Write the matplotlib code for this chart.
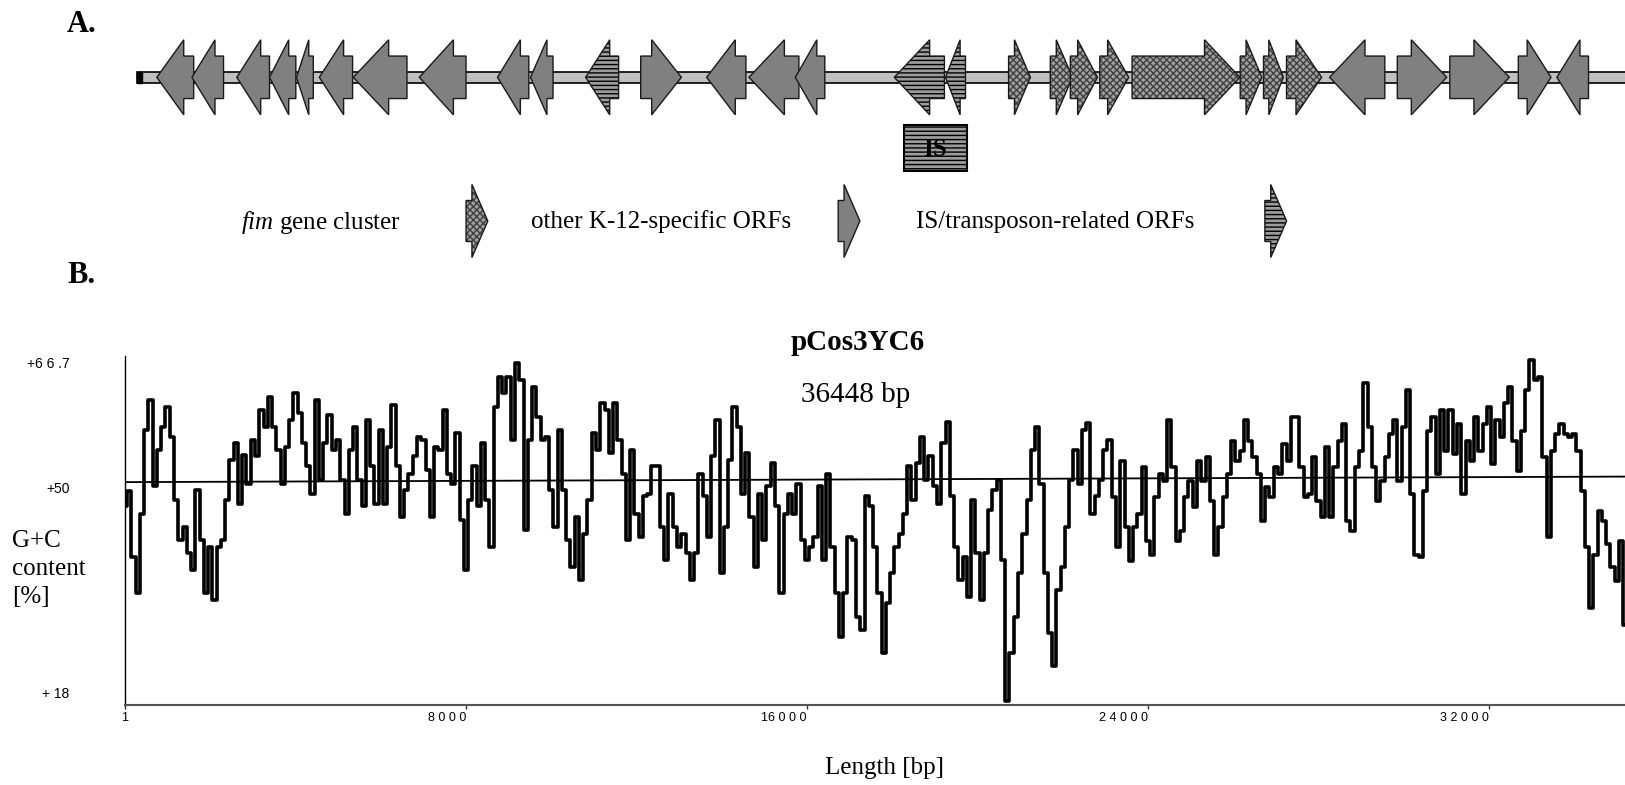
import numpy as np
import matplotlib.pyplot as plt
from matplotlib.patches import Polygon, Rectangle
from matplotlib.transforms import ScaledTranslation

plt.rcParams['font.family'] = ['Liberation Serif', 'DejaVu Serif']
plt.rcParams['mathtext.fontset'] = 'custom'
plt.rcParams['mathtext.rm'] = 'Liberation Serif'
plt.rcParams['mathtext.it'] = 'Liberation Serif:italic'
plt.rcParams['hatch.linewidth'] = 1.0

# ---- A. ORF map of the insert (positions in kb) ----
insert_len_kb = 36.448
gene_start = [0.465, 1.288, 2.341, 3.109, 3.742, 4.277, 5.074, 6.623, 8.457, 9.232,
              10.524, 11.817, 13.363, 14.358, 15.444, 17.766, 18.968, 20.448, 21.426, 21.896,
              22.588, 23.345, 25.882, 26.428, 26.968, 27.979, 29.567, 30.799, 32.406, 33.311]
gene_end = [1.330, 2.030, 3.109, 3.726, 4.136, 5.058, 6.334, 7.719, 9.192, 9.760,
            11.299, 12.772, 14.285, 15.529, 16.136, 18.942, 19.437, 20.959, 21.947, 22.532,
            23.266, 25.874, 26.388, 26.893, 27.791, 29.274, 30.726, 32.195, 33.173, 34.053]
gene_strand = [-1, -1, -1, -1, -1, -1, -1, -1, -1, -1,
               -1, 1, -1, -1, -1, -1, -1, 1, 1, 1,
               1, 1, 1, 1, 1, -1, 1, 1, 1, -1]
gene_type = ['k12'] * 10 + ['is'] + ['k12'] * 4 + ['is'] * 2 + ['fim'] * 8 + ['k12'] * 5
is_element = (17.99, 19.47)

legend_types = ['fim', 'k12', 'is']
legend_labels = [r'$\mathit{fim}$ gene cluster', 'other K-12-specific ORFs',
                 'IS/transposon-related ORFs']

# ---- B. G+C content, one value every 100 bp ----
gc_step = 100
gc_part1 = [45.7, 47.8, 38.7, 33.6, 44.7, 56.4, 60.6, 48.5, 53.6, 56.8,
            59.6, 55.4, 46.6, 41.0, 42.9, 39.2, 36.8, 48.0, 41.0, 33.6,
            40.1, 32.7, 40.1, 41.0, 46.6, 52.2, 54.5, 46.1, 52.9, 48.9,
            55.0, 52.7, 59.2, 56.8, 61.0, 56.8, 53.6, 48.9, 54.0, 57.8,
            61.5, 58.7, 54.5, 51.3, 47.5, 60.6, 49.4, 54.5, 58.5, 53.6,
            55.0, 49.4, 44.7, 53.6, 56.8, 49.4, 45.7, 57.8, 51.3, 46.1,
            56.4, 46.1, 54.0, 59.9, 51.3, 44.3, 48.0, 50.3, 52.7, 55.4,
            55.0, 50.8, 44.3, 54.0, 53.6, 59.2, 50.3, 48.9, 55.9, 43.8,
            36.8, 46.6, 51.3, 45.7, 54.5, 46.6, 40.1, 59.6, 63.8, 61.5,
            63.8, 55.0, 65.7, 63.4, 42.4, 55.0, 62.4, 58.2, 55.0, 55.4,
            48.0, 42.9, 56.4, 48.0, 41.0, 37.3, 44.3, 35.4, 41.9, 46.6,
            55.9, 53.6, 60.1, 59.2, 53.1, 60.1, 55.0]
gc_part2 = [50.3, 41.0, 53.6, 44.7, 41.5, 47.1, 47.5, 51.3, 51.3, 42.9,
            38.2, 47.5, 42.9, 40.1, 41.9, 39.2, 35.4, 39.2, 50.3, 47.1,
            41.5, 52.7, 57.8, 36.4, 42.9, 52.2, 59.6, 56.8, 47.5, 53.1,
            44.3, 37.3, 47.5, 41.0, 48.5, 51.7, 45.7, 33.6, 44.7, 47.5,
            44.7, 48.9, 41.0, 38.2, 40.1, 41.5, 48.5, 38.2, 50.3, 40.1,
            33.6, 27.5, 33.6, 41.5, 41.0, 30.3, 28.5, 47.1, 45.7, 40.1,
            33.6, 25.2, 32.2, 36.4, 40.1, 41.9, 44.7, 51.3, 46.6, 51.7,
            55.4, 49.4, 52.7, 48.5, 46.1, 54.5, 57.5, 47.1, 40.1, 35.4,
            38.7, 33.1, 46.6, 39.2, 32.7, 39.2, 45.2, 48.0, 49.4, 38.2,
            18.6, 25.2, 30.3, 36.4, 41.9, 46.6, 53.6, 56.8, 48.9, 36.4,
            28.0, 23.5, 34.1, 37.3, 42.9, 49.4, 53.6, 48.9, 56.4, 57.3,
            44.7, 47.1, 49.4, 53.6, 55.0]
gc_part3 = [47.0, 40.0, 52.1, 42.8, 38.1, 42.8, 44.6, 51.2, 40.9, 39.0,
            47.0, 50.2, 49.3, 57.7, 51.2, 40.9, 42.3, 47.0, 49.3, 45.6,
            52.1, 49.3, 52.6, 46.5, 39.0, 42.8, 47.0, 50.2, 54.9, 52.1,
            53.5, 57.7, 54.9, 52.6, 50.2, 43.7, 48.4, 47.0, 51.2, 50.2,
            54.4, 52.1, 58.2, 58.2, 51.2, 47.0, 47.4, 52.6, 46.5, 44.2,
            54.0, 44.2, 51.2, 54.9, 57.2, 43.7, 42.3, 51.2, 53.5, 62.9,
            56.8, 51.2, 46.5, 49.3, 52.6, 55.8, 57.7, 49.3, 56.8, 61.9,
            47.4, 39.0, 38.6, 47.9, 56.3, 58.2, 50.2, 59.1, 53.5, 59.1,
            53.0, 57.2, 47.4, 54.9, 52.1, 58.2, 53.5, 57.2, 59.6, 51.6,
            57.7, 55.4, 60.1, 62.4, 54.9, 50.7, 56.3, 61.9, 66.1, 63.3,
            63.8, 52.6, 41.4, 53.5, 55.8, 57.2, 55.8, 55.4, 55.8, 53.5,
            47.9, 40.0, 31.6, 39.0, 45.1, 43.7, 40.4, 37.2, 35.3, 40.9,
            29.2]
trend_x = [1, 36448]
trend_gc = [49.1, 49.9]

x_ticks = [1, 8000, 16000, 24000, 32000]
x_tick_labels = ['1', '8 0 0 0', '16 0 0 0', '2 4 0 0 0', '3 2 0 0 0']
y_ticks = [66.7, 50, 18]
y_tick_labels = ['+6 6 .7', '+50', '+ 18']

styles = {
    'k12': dict(face='#808080', hatch=None, hcol='none'),
    'fim': dict(face='#a0a0a0', hatch='xxxxx', hcol='#404040'),
    'is': dict(face='#9c9c9c', hatch='----', hcol='black'),
}


def draw_arrow(ax, start, end, strand, kind, yc, head_h, body_h):
    head = min(0.73 * (end - start), 0.83)
    H, b = head_h / 2, body_h / 2
    if strand > 0:
        k = end - head
        pts = [(start, yc - b), (k, yc - b), (k, yc - H), (end, yc),
               (k, yc + H), (k, yc + b), (start, yc + b)]
    else:
        k = start + head
        pts = [(end, yc - b), (k, yc - b), (k, yc - H), (start, yc),
               (k, yc + H), (k, yc + b), (end, yc + b)]
    st = styles[kind]
    ax.add_patch(Polygon(pts, closed=True, facecolor=st['face'], edgecolor=st['hcol'],
                         hatch=st['hatch'], lw=0))
    ax.add_patch(Polygon(pts, closed=True, fill=False, edgecolor='#1a1a1a', lw=1))


W, Hpx = 1625, 785
fig = plt.figure(figsize=(W / 100, Hpx / 100), dpi=100)

# map panel, y in pixels from the top, x in kb
px_per_kb = 42.625
ax_map = fig.add_axes([0, 1 - 270 / Hpx, 1, 270 / Hpx])
ax_map.set_xlim(-137 / px_per_kb, (W - 137) / px_per_kb)
ax_map.set_ylim(270, 0)
ax_map.axis('off')

ax_map.add_patch(Rectangle((0, 71.5), insert_len_kb, 11.5, facecolor='#c0c0c0',
                           edgecolor='black', lw=1.2))
ax_map.add_patch(Rectangle((0, 71.5), 0.12, 11.5, facecolor='black', edgecolor='black', lw=1))
for s, e, d, t in zip(gene_start, gene_end, gene_strand, gene_type):
    draw_arrow(ax_map, s, e, d, t, 77.3, 75, 42.5)

# IS element box
ax_map.add_patch(Rectangle((is_element[0], 125), is_element[1] - is_element[0], 46,
                           facecolor='#9c9c9c', edgecolor='black', hatch='----', lw=0))
ax_map.add_patch(Rectangle((is_element[0], 125), is_element[1] - is_element[0], 46,
                           fill=False, edgecolor='black', lw=1.5))
ax_map.text(sum(is_element) / 2, 149, 'IS', ha='center', va='center', fontsize=18,
            fontweight='bold')

# legend
leg_arrow_x = [7.72, 16.45, 26.46]
leg_text_px = [241, 531, 916]
for kind, lab, ax_x, tx in zip(legend_types, legend_labels, leg_arrow_x, leg_text_px):
    draw_arrow(ax_map, ax_x, ax_x + 0.51, 1, kind, 221, 73, 41)
    fig.text(tx / W, 1 - 222 / Hpx, lab, fontsize=18, ha='left', va='center')

# G+C plot
gc = np.array(gc_part1 + gc_part2 + gc_part3)
pos = 1 + gc_step * np.arange(len(gc))

ax = fig.add_axes([125 / W, 80 / Hpx, 1500 / W, 349 / Hpx])
ax.plot(pos, gc, color='black', lw=2.6, drawstyle='steps-mid')
ax.plot(trend_x, trend_gc, color='black', lw=1.3)
ax.set_xlim(1, 35192)
ax.set_ylim(18, 66.7)
ax.spines['top'].set_visible(False)
ax.spines['right'].set_visible(False)
ax.spines['left'].set_linewidth(1)
ax.spines['bottom'].set_linewidth(1.5)
ax.spines['bottom'].set_color('#555555')

ax.set_xticks(x_ticks)
ax.set_xticklabels(x_tick_labels, fontsize=9, family='Liberation Sans')
ax.tick_params(axis='x', length=3, width=1, pad=2, color='#333333')
for i, lab in enumerate(ax.get_xticklabels()):
    lab.set_ha('center' if i == 0 else 'right')

ax.set_yticks(y_ticks)
ax.set_yticklabels(y_tick_labels, fontsize=10, family='Liberation Sans')
ax.tick_params(axis='y', length=0, pad=40)
# the labels sit a little off their gridline in the original
for lab, dy in zip(ax.get_yticklabels(), [-7, -12, 12]):
    lab.set_transform(lab.get_transform() + ScaledTranslation(0, dy / 100, fig.dpi_scale_trans))

fig.text(858 / W, 1 - 342 / Hpx, 'pCos3YC6', fontsize=21, fontweight='bold',
         ha='center', va='center')
fig.text(856 / W, 1 - 395 / Hpx, '36448 bp', fontsize=21, ha='center', va='center')
fig.text(884 / W, 1 - 768 / Hpx, 'Length [bp]', fontsize=18, ha='center', va='center')
fig.text(12 / W, 1 - 569 / Hpx, 'G+C\ncontent\n[%]', fontsize=18, ha='left', va='center',
         linespacing=1.35)
fig.text(67 / W, 1 - 24 / Hpx, 'A.', fontsize=22, fontweight='bold', va='center')
fig.text(67 / W, 1 - 276 / Hpx, 'B.', fontsize=22, fontweight='bold', va='center')

fig.savefig('out.png', dpi=100)
